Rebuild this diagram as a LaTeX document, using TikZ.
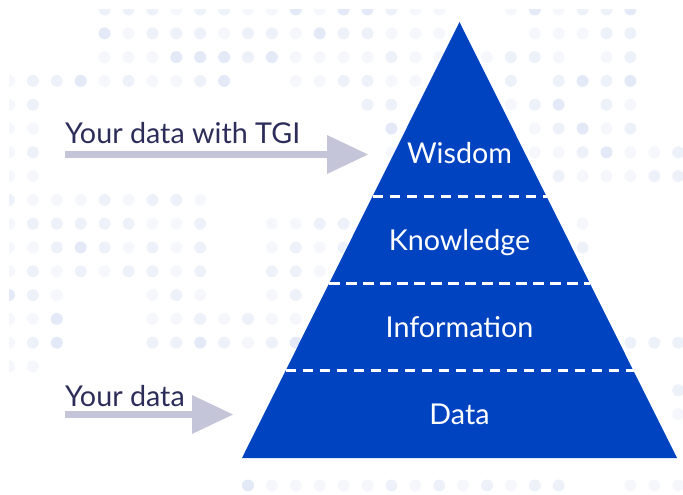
\documentclass[tikz,border=0pt]{standalone}
\usepackage{fontspec}
\setmainfont{Lato}
\usetikzlibrary{arrows.meta,calc}

\definecolor{pyrblue}{RGB}{0,67,193}
\definecolor{arrowgray}{RGB}{197,197,218}
\definecolor{labelnavy}{RGB}{45,45,90}
\definecolor{dot1}{RGB}{246,247,252}
\definecolor{dot2}{RGB}{237,241,250}
\definecolor{dot3}{RGB}{227,233,247}

\begin{document}
\begin{tikzpicture}[x=1pt,y=-1pt,
		level/.style={text=white, font=\fontsize{28.7}{34}\selectfont, anchor=base, inner sep=0pt},
		side/.style={text=labelnavy, font=\fontsize{28.7}{34}\selectfont, anchor=base west, inner sep=0pt},
		pointer/.style={draw=arrowgray, line width=7.5pt, -{Triangle[length=41pt,width=39pt,line width=0pt]}},
		divider/.style={draw=white, line width=3pt, dash pattern=on 10.5pt off 6.5pt}]
		\useasboundingbox (0,0) rectangle (683,495);

		% draw the dotted background, row / list of column/shade
		\begin{scope}
			\clip (9,10) rectangle (683,495);
			\foreach \j/\list in {
				0/{4/2,5/2,6/2,7/1,8/2,9/2,10/1,11/1,12/3,13/1,14/3,15/3,16/2,17/1,18/1,21/1,22/3,23/1,24/2,25/2,26/3},
				1/{4/3,5/1,6/2,7/2,8/2,9/1,10/2,11/2,12/1,13/3,14/2,15/2,16/1,17/1,18/1,22/1,23/1,24/1,25/2,26/2},
				2/{4/1,5/1,6/1,7/3,8/3,9/3,10/2,11/3,12/1,13/1,14/1,15/1,16/2,17/1,18/1,20/1,21/2,22/2,23/1,25/1,26/2},
				3/{0/1,1/2,2/2,3/3,4/1,5/2,6/1,7/1,8/2,9/3,12/1,13/1,14/2,15/2,16/1,17/1,21/2,23/2,24/3,25/2,26/3},
				4/{0/1,1/2,15/2,16/2,21/1,22/2,23/3,25/2,26/1},
				5/{0/1,1/1,16/3,22/1,23/2,24/3,25/1,26/2},
				6/{0/1,1/2,16/1,22/1,23/1,24/2,25/3,26/1,27/1,28/2},
				7/{0/1,1/1,23/2,24/1,25/1,26/1,27/2,28/2},
				8/{0/2,1/1,2/1,3/1,4/2,5/1,6/2,7/2,8/1},
				9/{0/1,1/2,2/2,3/2,4/2,5/2,6/1,7/1,8/2,11/1,12/1,13/2,14/2,24/1},
				10/{0/1,1/1,2/2,3/3,4/2,5/1,6/2,7/1,8/2,11/1,12/2,13/1,14/2,24/2},
				11/{0/1,1/2,2/1,3/2,4/1,5/2,6/2,7/1,8/2,11/2,12/2,13/1},
				12/{0/3,1/2,2/1,6/1,7/2,8/1,11/1,12/2},
				13/{0/1,1/1,2/3,6/1,7/1,8/2,9/1,10/2,11/1,12/1},
				14/{0/1,1/2,2/3,6/2,7/2,8/3,9/2,10/1,11/2,12/3,26/2,27/2,28/2},
				15/{0/1,1/1},
				16/{28/2},
				17/{28/1},
				20/{10/3,11/1,12/1,13/1,14/1,15/1,16/2,17/1,18/2,19/1,20/2,21/1,22/2,23/2,26/1,27/1,28/1}}
				\foreach \i/\l in \list
					\fill[dot\l] (9+23.9*\i, 9.5+23.8*\j) circle [radius=6];
		\end{scope}

		% draw the pyramid
		\coordinate (apex) at (459.5,22);
		\coordinate (base left) at (242,458);
		\coordinate (base right) at (677,458);
		\fill[pyrblue] (apex) -- (base right) -- (base left) -- cycle;

		% draw the dashed dividers between the levels
		\foreach \f/\name in {0.4/top, 0.6/mid, 0.8/low} {
			\coordinate (\name\space l) at ($(apex)!\f!(base left)$);
			\coordinate (\name\space r) at ($(apex)!\f!(base right)$);
			\draw[divider] (\name\space l) -- (\name\space r);
		}

		% the level names
		\node[level] (wisdom) at (459.5,163.5) {Wisdom};
		\node[level] (knowledge) at (459.5,250.5) {Knowledge};
		\node[level] (information) at (459.5,337.5) {Information};
		\node[level] (data) at (459.5,424.5) {Data};

		% draw the two labels with their arrows
		\node[side] (tgi label) at (65,143) {Your data with TGI};
		\node[side] (raw label) at (65,406) {Your data};

		\coordinate (tgi tail) at (65,154.5);
		\coordinate (tgi tip) at (368,154.5);
		\coordinate (raw tail) at (65,414.5);
		\coordinate (raw tip) at (233,414.5);
		\draw[pointer] (tgi tail) -- (tgi tip);
		\draw[pointer] (raw tail) -- (raw tip);
	\end{tikzpicture}
\end{document}
